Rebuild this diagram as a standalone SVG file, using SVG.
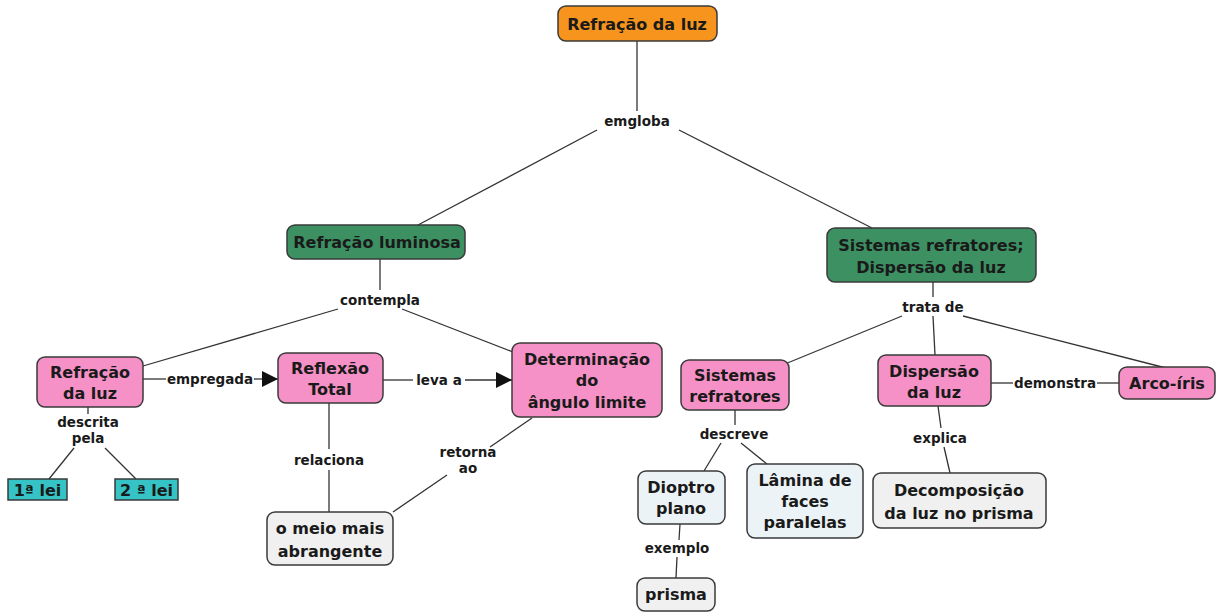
<svg xmlns="http://www.w3.org/2000/svg" width="1217" height="612" viewBox="0 0 1217 612">
  <defs>
    <marker id="arrow" viewBox="0 0 10 10" refX="10" refY="5" markerWidth="16" markerHeight="16" markerUnits="userSpaceOnUse" orient="auto">
      <path d="M0,0 L10,5 L0,10 z" fill="#111"/>
    </marker>
    <style>
      .node rect { stroke: #3a3a3a; stroke-width: 1.5; }
      .orange { fill: #f7941d; }
      .green { fill: #3c9062; }
      .pink { fill: #f591c6; }
      .teal { fill: #36c3c6; }
      .blue { fill: #ebf3f6; }
      .gray { fill: #f0f0f0; }
      .node text { font-family: "DejaVu Sans", Verdana, sans-serif; font-weight: bold; font-size: 16px; fill: #1a1a1a; text-anchor: middle; }
      .links line, .links polyline { stroke: #333; stroke-width: 1.3; fill: none; }
      .lbl { font-family: "DejaVu Sans", Verdana, sans-serif; font-weight: bold; font-size: 13.5px; fill: #1a1a1a; text-anchor: middle; }
    </style>
  </defs>
  <rect width="1217" height="612" fill="#ffffff"/>

  <!-- connectors and their labels -->
  <g id="connectors" class="links">
    <line x1="637" y1="41" x2="637" y2="111"/>
    <line x1="597" y1="130" x2="418" y2="225"/>
    <line x1="679" y1="130" x2="872" y2="228"/>
    <text class="lbl" x="637" y="126">emgloba</text>

    <line x1="380" y1="259" x2="380" y2="290"/>
    <line x1="338" y1="309" x2="143" y2="366"/>
    <line x1="402" y1="309" x2="513" y2="352"/>
    <text class="lbl" x="380" y="305">contempla</text>

    <line x1="933" y1="282" x2="933" y2="297"/>
    <line x1="902" y1="316" x2="785" y2="364"/>
    <line x1="933" y1="316" x2="935" y2="355"/>
    <line x1="963" y1="316" x2="1166" y2="368"/>
    <text class="lbl" x="933" y="312">trata de</text>

    <line x1="143" y1="379" x2="166" y2="379"/>
    <line x1="254" y1="379" x2="278" y2="379" marker-end="url(#arrow)"/>
    <text class="lbl" x="210" y="384">empregada</text>

    <line x1="88" y1="407" x2="88" y2="414"/>
    <text class="lbl" x="88" y="427">descrita</text>
    <text class="lbl" x="88" y="443">pela</text>
    <line x1="74" y1="448" x2="49" y2="479"/>
    <line x1="105" y1="448" x2="136" y2="479"/>

    <line x1="383" y1="380" x2="413" y2="380"/>
    <line x1="465" y1="380" x2="512" y2="380" marker-end="url(#arrow)"/>
    <text class="lbl" x="439" y="385">leva a</text>

    <line x1="329" y1="403" x2="329" y2="449"/>
    <line x1="329" y1="470" x2="329" y2="512"/>
    <text class="lbl" x="329" y="465">relaciona</text>

    <line x1="532" y1="418" x2="490" y2="447"/>
    <line x1="447" y1="475" x2="393" y2="512"/>
    <text class="lbl" x="468" y="457">retorna</text>
    <text class="lbl" x="468" y="473">ao</text>

    <line x1="735" y1="410" x2="735" y2="425"/>
    <line x1="721" y1="443" x2="704" y2="471"/>
    <line x1="741" y1="443" x2="767" y2="464"/>
    <text class="lbl" x="734" y="439">descreve</text>

    <line x1="680" y1="524" x2="679" y2="540"/>
    <line x1="677" y1="557" x2="676" y2="578"/>
    <text class="lbl" x="677" y="553">exemplo</text>

    <line x1="991" y1="383" x2="1013" y2="383"/>
    <line x1="1097" y1="383" x2="1119" y2="383"/>
    <text class="lbl" x="1055" y="388">demonstra</text>

    <line x1="938" y1="406" x2="941" y2="428"/>
    <line x1="944" y1="447" x2="950" y2="473"/>
    <text class="lbl" x="940" y="443">explica</text>
  </g>

  <g id="n-refracao-top" class="node">
    <rect class="orange" x="558" y="6" width="159" height="35" rx="8"/>
    <text x="637" y="30">Refração da luz</text>
  </g>

  <g id="n-refracao-luminosa" class="node">
    <rect class="green" x="287" y="225" width="178" height="34" rx="8"/>
    <text x="377" y="248">Refração luminosa</text>
  </g>

  <g id="n-sistemas-dispersao" class="node">
    <rect class="green" x="827" y="228" width="209" height="54" rx="8"/>
    <text x="931" y="251">Sistemas refratores;</text>
    <text x="931" y="273">Dispersão da luz</text>
  </g>

  <g id="n-refracao-luz" class="node">
    <rect class="pink" x="37" y="357" width="106" height="50" rx="8"/>
    <text x="90" y="378">Refração</text>
    <text x="90" y="399">da luz</text>
  </g>

  <g id="n-lei1" class="node">
    <rect class="teal" x="8" y="479" width="59" height="21"/>
    <text x="37.5" y="496">1ª lei</text>
  </g>

  <g id="n-lei2" class="node">
    <rect class="teal" x="115" y="479" width="63" height="21"/>
    <text x="146.5" y="496">2 ª lei</text>
  </g>

  <g id="n-reflexao" class="node">
    <rect class="pink" x="278" y="353" width="105" height="50" rx="8"/>
    <text x="330" y="374">Reflexão</text>
    <text x="330" y="395">Total</text>
  </g>

  <g id="n-angulo" class="node">
    <rect class="pink" x="512" y="343" width="150" height="74" rx="8"/>
    <text x="587" y="365">Determinação</text>
    <text x="587" y="386">do</text>
    <text x="587" y="408">ângulo limite</text>
  </g>

  <g id="n-meio" class="node">
    <rect class="gray" x="267" y="512" width="126" height="53" rx="8"/>
    <text x="330" y="534">o meio mais</text>
    <text x="330" y="557">abrangente</text>
  </g>

  <g id="n-sistemas" class="node">
    <rect class="pink" x="681" y="360" width="108" height="50" rx="8"/>
    <text x="735" y="381">Sistemas</text>
    <text x="735" y="402">refratores</text>
  </g>

  <g id="n-dioptro" class="node">
    <rect class="blue" x="638" y="471" width="87" height="53" rx="8"/>
    <text x="681" y="493">Dioptro</text>
    <text x="681" y="514">plano</text>
  </g>

  <g id="n-lamina" class="node">
    <rect class="blue" x="747" y="464" width="116" height="74" rx="8"/>
    <text x="805" y="486">Lâmina de</text>
    <text x="805" y="507">faces</text>
    <text x="805" y="528">paralelas</text>
  </g>

  <g id="n-prisma" class="node">
    <rect class="gray" x="637" y="578" width="78" height="33" rx="8"/>
    <text x="676" y="600">prisma</text>
  </g>

  <g id="n-dispersao" class="node">
    <rect class="pink" x="878" y="355" width="113" height="51" rx="8"/>
    <text x="934" y="377">Dispersão</text>
    <text x="934" y="398">da luz</text>
  </g>

  <g id="n-arco" class="node">
    <rect class="pink" x="1119" y="367" width="96" height="32" rx="8"/>
    <text x="1167" y="389">Arco-íris</text>
  </g>

  <g id="n-decomposicao" class="node">
    <rect class="gray" x="873" y="473" width="173" height="55" rx="8"/>
    <text x="959" y="496">Decomposição</text>
    <text x="959" y="519">da luz no prisma</text>
  </g>
</svg>
